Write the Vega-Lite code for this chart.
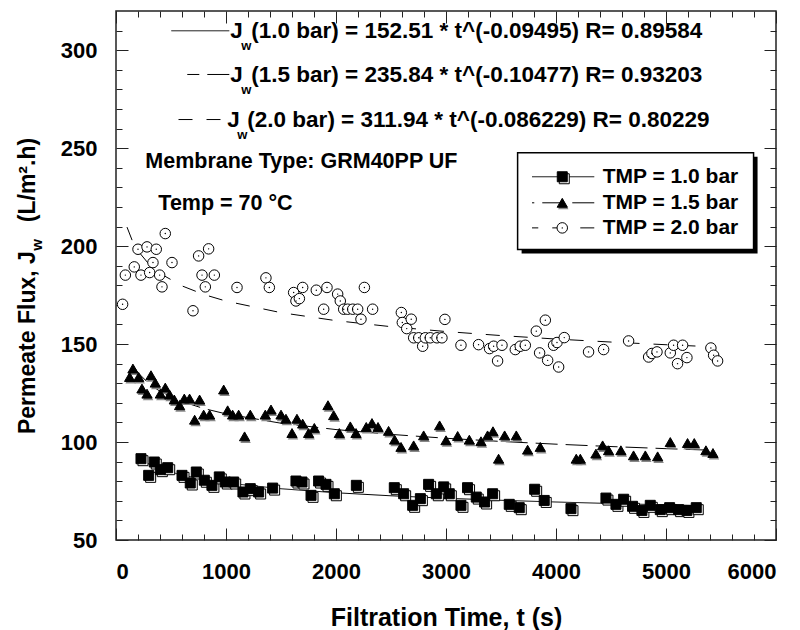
{
  "$schema": "https://vega.github.io/schema/vega-lite/v6.json",
  "width": 660,
  "height": 529,
  "autosize": "none",
  "padding": {"left": 116, "top": 11, "right": 24, "bottom": 90},
  "background": "white",
  "config": {
    "view": {"stroke": "#222", "strokeWidth": 1.5},
    "font": "Liberation Sans",
    "axis": {"domain": false, "grid": false, "labelFont": "Liberation Sans", "labelFontWeight": "bold", "labelFontSize": 22, "labelColor": "#000", "labelOverlap": false, "tickColor": "#222", "tickWidth": 1, "titleFont": "Liberation Sans", "titleFontWeight": "bold", "titleColor": "#000", "format": "d"}
  },
  "resolve": {"axis": {"x": "independent", "y": "independent"}},
  "encoding": {
    "x": {"field": "t", "type": "quantitative", "scale": {"domain": [0, 6000], "nice": false, "zero": false}, "axis": null},
    "y": {"field": "v", "type": "quantitative", "scale": {"domain": [50, 320], "nice": false, "zero": false}, "axis": null}
  },
  "datasets": {
    "points": [
      {"t":227,"v":91.5,"tmp":"1.0"},{"t":297,"v":83.0,"tmp":"1.0"},{"t":348,"v":89.8,"tmp":"1.0"},{"t":403,"v":85.9,"tmp":"1.0"},{"t":470,"v":86.9,"tmp":"1.0"},{"t":600,"v":83.0,"tmp":"1.0"},{"t":675,"v":79.1,"tmp":"1.0"},{"t":730,"v":84.7,"tmp":"1.0"},{"t":803,"v":80.5,"tmp":"1.0"},{"t":872,"v":77.9,"tmp":"1.0"},{"t":939,"v":82.2,"tmp":"1.0"},{"t":994,"v":79.6,"tmp":"1.0"},{"t":1070,"v":79.6,"tmp":"1.0"},{"t":1154,"v":74.5,"tmp":"1.0"},{"t":1221,"v":76.2,"tmp":"1.0"},{"t":1297,"v":74.5,"tmp":"1.0"},{"t":1424,"v":76.5,"tmp":"1.0"},{"t":1636,"v":80.1,"tmp":"1.0"},{"t":1691,"v":79.6,"tmp":"1.0"},{"t":1773,"v":72.8,"tmp":"1.0"},{"t":1842,"v":80.1,"tmp":"1.0"},{"t":1909,"v":78.4,"tmp":"1.0"},{"t":1985,"v":73.6,"tmp":"1.0"},{"t":2185,"v":77.9,"tmp":"1.0"},{"t":2530,"v":76.7,"tmp":"1.0"},{"t":2615,"v":73.6,"tmp":"1.0"},{"t":2697,"v":67.7,"tmp":"1.0"},{"t":2767,"v":71.1,"tmp":"1.0"},{"t":2842,"v":78.4,"tmp":"1.0"},{"t":2912,"v":73.6,"tmp":"1.0"},{"t":2979,"v":77.1,"tmp":"1.0"},{"t":3030,"v":73.6,"tmp":"1.0"},{"t":3136,"v":67.7,"tmp":"1.0"},{"t":3196,"v":76.7,"tmp":"1.0"},{"t":3275,"v":71.9,"tmp":"1.0"},{"t":3351,"v":69.4,"tmp":"1.0"},{"t":3424,"v":73.6,"tmp":"1.0"},{"t":3575,"v":68.2,"tmp":"1.0"},{"t":3666,"v":66.5,"tmp":"1.0"},{"t":3806,"v":75.9,"tmp":"1.0"},{"t":3893,"v":70.2,"tmp":"1.0"},{"t":4136,"v":66.0,"tmp":"1.0"},{"t":4454,"v":71.4,"tmp":"1.0"},{"t":4545,"v":68.2,"tmp":"1.0"},{"t":4615,"v":70.8,"tmp":"1.0"},{"t":4696,"v":67.2,"tmp":"1.0"},{"t":4781,"v":65.1,"tmp":"1.0"},{"t":4857,"v":67.7,"tmp":"1.0"},{"t":4948,"v":65.5,"tmp":"1.0"},{"t":5033,"v":66.5,"tmp":"1.0"},{"t":5115,"v":65.5,"tmp":"1.0"},{"t":5190,"v":65.1,"tmp":"1.0"},{"t":5275,"v":66.5,"tmp":"1.0"},
      {"t":124,"v":133.2,"tmp":"1.5"},{"t":154,"v":137.5,"tmp":"1.5"},{"t":206,"v":133.2,"tmp":"1.5"},{"t":236,"v":127.3,"tmp":"1.5"},{"t":282,"v":124.7,"tmp":"1.5"},{"t":318,"v":134.1,"tmp":"1.5"},{"t":357,"v":130.3,"tmp":"1.5"},{"t":403,"v":124.7,"tmp":"1.5"},{"t":448,"v":127.8,"tmp":"1.5"},{"t":488,"v":124.2,"tmp":"1.5"},{"t":530,"v":121.7,"tmp":"1.5"},{"t":578,"v":118.8,"tmp":"1.5"},{"t":621,"v":122.2,"tmp":"1.5"},{"t":669,"v":122.2,"tmp":"1.5"},{"t":715,"v":111.4,"tmp":"1.5"},{"t":760,"v":121.7,"tmp":"1.5"},{"t":797,"v":114.0,"tmp":"1.5"},{"t":851,"v":114.0,"tmp":"1.5"},{"t":979,"v":126.8,"tmp":"1.5"},{"t":1015,"v":116.2,"tmp":"1.5"},{"t":1060,"v":114.0,"tmp":"1.5"},{"t":1115,"v":114.0,"tmp":"1.5"},{"t":1169,"v":102.9,"tmp":"1.5"},{"t":1221,"v":114.0,"tmp":"1.5"},{"t":1357,"v":114.0,"tmp":"1.5"},{"t":1409,"v":116.6,"tmp":"1.5"},{"t":1500,"v":114.0,"tmp":"1.5"},{"t":1545,"v":111.9,"tmp":"1.5"},{"t":1600,"v":104.6,"tmp":"1.5"},{"t":1645,"v":111.9,"tmp":"1.5"},{"t":1697,"v":109.4,"tmp":"1.5"},{"t":1751,"v":104.6,"tmp":"1.5"},{"t":1803,"v":107.2,"tmp":"1.5"},{"t":1927,"v":118.8,"tmp":"1.5"},{"t":1979,"v":113.7,"tmp":"1.5"},{"t":2030,"v":104.6,"tmp":"1.5"},{"t":2130,"v":108.0,"tmp":"1.5"},{"t":2182,"v":104.6,"tmp":"1.5"},{"t":2275,"v":107.7,"tmp":"1.5"},{"t":2327,"v":109.7,"tmp":"1.5"},{"t":2382,"v":107.7,"tmp":"1.5"},{"t":2478,"v":105.7,"tmp":"1.5"},{"t":2533,"v":101.2,"tmp":"1.5"},{"t":2591,"v":97.5,"tmp":"1.5"},{"t":2706,"v":98.3,"tmp":"1.5"},{"t":2797,"v":103.4,"tmp":"1.5"},{"t":2942,"v":108.5,"tmp":"1.5"},{"t":3000,"v":100.9,"tmp":"1.5"},{"t":3106,"v":103.1,"tmp":"1.5"},{"t":3212,"v":101.2,"tmp":"1.5"},{"t":3318,"v":100.4,"tmp":"1.5"},{"t":3378,"v":103.4,"tmp":"1.5"},{"t":3427,"v":105.5,"tmp":"1.5"},{"t":3478,"v":91.5,"tmp":"1.5"},{"t":3533,"v":103.4,"tmp":"1.5"},{"t":3639,"v":103.4,"tmp":"1.5"},{"t":3742,"v":96.1,"tmp":"1.5"},{"t":3857,"v":97.5,"tmp":"1.5"},{"t":4184,"v":91.5,"tmp":"1.5"},{"t":4221,"v":91.5,"tmp":"1.5"},{"t":4363,"v":94.1,"tmp":"1.5"},{"t":4424,"v":98.3,"tmp":"1.5"},{"t":4478,"v":95.8,"tmp":"1.5"},{"t":4590,"v":95.8,"tmp":"1.5"},{"t":4705,"v":93.2,"tmp":"1.5"},{"t":4812,"v":93.2,"tmp":"1.5"},{"t":4924,"v":92.7,"tmp":"1.5"},{"t":5039,"v":100.0,"tmp":"1.5"},{"t":5196,"v":99.5,"tmp":"1.5"},{"t":5257,"v":99.5,"tmp":"1.5"},{"t":5363,"v":95.8,"tmp":"1.5"},{"t":5427,"v":94.4,"tmp":"1.5"},
      {"t":60,"v":170.3,"tmp":"2.0"},{"t":85,"v":185.2,"tmp":"2.0"},{"t":166,"v":189.4,"tmp":"2.0"},{"t":200,"v":198.4,"tmp":"2.0"},{"t":227,"v":185.2,"tmp":"2.0"},{"t":282,"v":199.6,"tmp":"2.0"},{"t":306,"v":186.5,"tmp":"2.0"},{"t":336,"v":191.6,"tmp":"2.0"},{"t":366,"v":198.4,"tmp":"2.0"},{"t":397,"v":185.2,"tmp":"2.0"},{"t":418,"v":179.2,"tmp":"2.0"},{"t":448,"v":206.4,"tmp":"2.0"},{"t":509,"v":191.6,"tmp":"2.0"},{"t":700,"v":167.0,"tmp":"2.0"},{"t":751,"v":195.0,"tmp":"2.0"},{"t":782,"v":185.2,"tmp":"2.0"},{"t":812,"v":179.2,"tmp":"2.0"},{"t":842,"v":198.6,"tmp":"2.0"},{"t":894,"v":185.2,"tmp":"2.0"},{"t":1100,"v":178.9,"tmp":"2.0"},{"t":1363,"v":183.8,"tmp":"2.0"},{"t":1394,"v":178.9,"tmp":"2.0"},{"t":1615,"v":176.3,"tmp":"2.0"},{"t":1636,"v":172.0,"tmp":"2.0"},{"t":1667,"v":173.2,"tmp":"2.0"},{"t":1697,"v":178.9,"tmp":"2.0"},{"t":1821,"v":177.5,"tmp":"2.0"},{"t":1888,"v":167.8,"tmp":"2.0"},{"t":1918,"v":178.9,"tmp":"2.0"},{"t":2015,"v":175.5,"tmp":"2.0"},{"t":2039,"v":172.0,"tmp":"2.0"},{"t":2070,"v":167.8,"tmp":"2.0"},{"t":2106,"v":167.8,"tmp":"2.0"},{"t":2152,"v":167.8,"tmp":"2.0"},{"t":2197,"v":167.8,"tmp":"2.0"},{"t":2227,"v":162.7,"tmp":"2.0"},{"t":2258,"v":178.9,"tmp":"2.0"},{"t":2333,"v":167.8,"tmp":"2.0"},{"t":2594,"v":166.1,"tmp":"2.0"},{"t":2603,"v":161.0,"tmp":"2.0"},{"t":2643,"v":157.9,"tmp":"2.0"},{"t":2684,"v":162.7,"tmp":"2.0"},{"t":2706,"v":153.2,"tmp":"2.0"},{"t":2752,"v":153.2,"tmp":"2.0"},{"t":2788,"v":148.9,"tmp":"2.0"},{"t":2812,"v":153.2,"tmp":"2.0"},{"t":2857,"v":153.2,"tmp":"2.0"},{"t":2918,"v":153.2,"tmp":"2.0"},{"t":2963,"v":153.2,"tmp":"2.0"},{"t":2990,"v":162.6,"tmp":"2.0"},{"t":3136,"v":149.4,"tmp":"2.0"},{"t":3296,"v":149.7,"tmp":"2.0"},{"t":3396,"v":147.7,"tmp":"2.0"},{"t":3433,"v":148.9,"tmp":"2.0"},{"t":3469,"v":141.4,"tmp":"2.0"},{"t":3509,"v":149.4,"tmp":"2.0"},{"t":3630,"v":147.2,"tmp":"2.0"},{"t":3675,"v":148.9,"tmp":"2.0"},{"t":3721,"v":149.4,"tmp":"2.0"},{"t":3821,"v":156.6,"tmp":"2.0"},{"t":3851,"v":145.5,"tmp":"2.0"},{"t":3903,"v":162.2,"tmp":"2.0"},{"t":3924,"v":141.7,"tmp":"2.0"},{"t":3978,"v":149.4,"tmp":"2.0"},{"t":4009,"v":150.8,"tmp":"2.0"},{"t":4024,"v":138.3,"tmp":"2.0"},{"t":4075,"v":153.3,"tmp":"2.0"},{"t":4296,"v":146.0,"tmp":"2.0"},{"t":4433,"v":147.2,"tmp":"2.0"},{"t":4660,"v":151.6,"tmp":"2.0"},{"t":4842,"v":143.4,"tmp":"2.0"},{"t":4872,"v":145.2,"tmp":"2.0"},{"t":4918,"v":146.0,"tmp":"2.0"},{"t":5039,"v":145.5,"tmp":"2.0"},{"t":5069,"v":149.4,"tmp":"2.0"},{"t":5105,"v":140.0,"tmp":"2.0"},{"t":5151,"v":149.4,"tmp":"2.0"},{"t":5190,"v":143.1,"tmp":"2.0"},{"t":5408,"v":148.0,"tmp":"2.0"},{"t":5433,"v":144.3,"tmp":"2.0"},{"t":5469,"v":141.4,"tmp":"2.0"}
    ],
    "fits": [
      {"t":200,"v":92.22,"tmp":"1.0"},{"t":300,"v":88.74,"tmp":"1.0"},{"t":400,"v":86.34,"tmp":"1.0"},{"t":600,"v":83.08,"tmp":"1.0"},{"t":800,"v":80.85,"tmp":"1.0"},{"t":1000,"v":79.15,"tmp":"1.0"},{"t":1500,"v":76.16,"tmp":"1.0"},{"t":2000,"v":74.11,"tmp":"1.0"},{"t":2500,"v":72.56,"tmp":"1.0"},{"t":3000,"v":71.31,"tmp":"1.0"},{"t":3500,"v":70.27,"tmp":"1.0"},{"t":4000,"v":69.39,"tmp":"1.0"},{"t":4500,"v":68.62,"tmp":"1.0"},{"t":5000,"v":67.93,"tmp":"1.0"},{"t":5300,"v":67.56,"tmp":"1.0"},
      {"t":150,"v":139.52,"tmp":"1.5"},{"t":200,"v":135.38,"tmp":"1.5"},{"t":300,"v":129.74,"tmp":"1.5"},{"t":400,"v":125.89,"tmp":"1.5"},{"t":600,"v":120.66,"tmp":"1.5"},{"t":800,"v":117.08,"tmp":"1.5"},{"t":1000,"v":114.37,"tmp":"1.5"},{"t":1500,"v":109.61,"tmp":"1.5"},{"t":2000,"v":106.36,"tmp":"1.5"},{"t":2500,"v":103.90,"tmp":"1.5"},{"t":3000,"v":101.93,"tmp":"1.5"},{"t":3500,"v":100.30,"tmp":"1.5"},{"t":4000,"v":98.91,"tmp":"1.5"},{"t":4500,"v":97.70,"tmp":"1.5"},{"t":5000,"v":96.62,"tmp":"1.5"},{"t":5450,"v":95.75,"tmp":"1.5"},
      {"t":100,"v":209.70,"tmp":"2.0"},{"t":150,"v":202.50,"tmp":"2.0"},{"t":200,"v":197.54,"tmp":"2.0"},{"t":300,"v":190.75,"tmp":"2.0"},{"t":400,"v":186.08,"tmp":"2.0"},{"t":600,"v":179.69,"tmp":"2.0"},{"t":800,"v":175.28,"tmp":"2.0"},{"t":1000,"v":171.94,"tmp":"2.0"},{"t":1500,"v":166.03,"tmp":"2.0"},{"t":2000,"v":161.96,"tmp":"2.0"},{"t":2500,"v":158.88,"tmp":"2.0"},{"t":3000,"v":156.40,"tmp":"2.0"},{"t":3500,"v":154.34,"tmp":"2.0"},{"t":4000,"v":152.57,"tmp":"2.0"},{"t":4500,"v":151.03,"tmp":"2.0"},{"t":5000,"v":149.67,"tmp":"2.0"},{"t":5450,"v":148.55,"tmp":"2.0"}
    ],
    "samples": [
      {"t":1030,"t2":503,"v":309.9,"tmp":"1.0"},
      {"t":1030,"t2":648,"v":287.6,"tmp":"1.5"},
      {"t":950,"t2":557,"v":264.6,"tmp":"2.0"},
      {"t":4348,"t2":3782,"v":235.4,"tmp":"1.0"},
      {"t":4348,"t2":3782,"v":222.1,"tmp":"1.5"},
      {"t":4348,"t2":3782,"v":209.3,"tmp":"2.0"}
    ],
    "legsym": [
      {"t":4057,"v":235.4,"tmp":"1.0"},
      {"t":4057,"v":222.1,"tmp":"1.5"},
      {"t":4057,"v":209.3,"tmp":"2.0"}
    ],
    "legtext": [
      {"t":4424,"v":235.4,"text":"TMP = 1.0 bar"},
      {"t":4424,"v":222.1,"text":"TMP = 1.5 bar"},
      {"t":4424,"v":209.3,"text":"TMP = 2.0 bar"}
    ],
    "legbox": [{"t":3651,"t2":5796,"v":247.6,"v2":198.3}],
    "eqs": [
      {"t":1039,"v":306.2,"text":"J"},
      {"t":1230,"v":306.2,"text":"(1.0 bar) = 152.51 * t^(-0.09495) R= 0.89584"},
      {"t":1039,"v":283.7,"text":"J"},
      {"t":1230,"v":283.7,"text":"(1.5 bar) = 235.84 * t^(-0.10477) R= 0.93203"},
      {"t":1012,"v":260.8,"text":"J"},
      {"t":1194,"v":260.8,"text":"(2.0 bar) = 311.94 * t^(-0.086229) R= 0.80229"}
    ],
    "notes": [
      {"t":266,"v":239.8,"text":"Membrane Type: GRM40PP UF"},
      {"t":385,"v":218.4,"text":"Temp = 70 °C"}
    ],
    "subs": [
      {"t":1139,"v":300.1,"text":"w"},
      {"t":1139,"v":277.6,"text":"w"},
      {"t":1103,"v":254.6,"text":"w"}
    ],
    "ytitleA": [{"t":-734,"v":197.4,"text":"Permeate Flux, J"}],
    "ytitleB": [{"t":-734,"v":212.2,"text":"(L/m².h)"}],
    "ytitleSub": [{"t":-670,"v":197.6,"text":"w"}],
    "ax": [{"t":0,"v":50}]
  },
  "layer": [
    {
      "data": {"name": "fits"},
      "mark": {"type": "line", "color": "#000", "strokeWidth": 1},
      "encoding": {
        "detail": {"field": "tmp"},
        "strokeDash": {"field": "tmp", "type": "nominal", "scale": {"domain": ["1.0","1.5","2.0"], "range": [[1,0],[22,8],[14,14]]}, "legend": null}
      }
    },
    {
      "data": {"name": "points"},
      "layer": [
        {"transform": [{"filter": "datum.tmp === '1.0'"}], "mark": {"type": "point", "shape": "square", "size": 100, "filled": true, "fill": "#fff", "stroke": "#000", "strokeWidth": 1, "opacity": 1, "xOffset": 2, "yOffset": 2}},
        {"transform": [{"filter": "datum.tmp === '1.5'"}], "mark": {"type": "point", "shape": "triangle-up", "size": 110, "filled": true, "fill": "#888", "strokeWidth": 0, "opacity": 1, "xOffset": 1, "yOffset": 2}},
        {"mark": {"type": "point", "filled": true, "stroke": "#000", "strokeWidth": 1, "opacity": 1},
         "encoding": {
           "shape": {"field": "tmp", "type": "nominal", "scale": {"domain": ["1.0","1.5","2.0"], "range": ["square","triangle-up","circle"]}, "legend": null},
           "fill": {"field": "tmp", "type": "nominal", "scale": {"domain": ["1.0","1.5","2.0"], "range": ["#000","#000","#fff"]}, "legend": null},
           "size": {"field": "tmp", "type": "ordinal", "scale": {"domain": ["1.0","1.5","2.0"], "range": [100,110,64]}, "legend": null}
         }},
        {"transform": [{"filter": "datum.tmp === '2.0'"}], "mark": {"type": "point", "shape": "circle", "size": 2, "filled": true, "fill": "#000", "strokeWidth": 0, "opacity": 1}}
      ]
    },
    {
      "data": {"name": "legbox"},
      "mark": {"type": "rect", "fill": "#000", "xOffset": 4, "x2Offset": 4, "yOffset": 4, "y2Offset": 4},
      "encoding": {"x2": {"field": "t2"}, "y2": {"field": "v2"}}
    },
    {
      "data": {"name": "legbox"},
      "mark": {"type": "rect", "fill": "#fff", "stroke": "#000", "strokeWidth": 1.5},
      "encoding": {"x2": {"field": "t2"}, "y2": {"field": "v2"}}
    },
    {
      "data": {"name": "samples"},
      "mark": {"type": "rule", "color": "#000", "strokeWidth": 1},
      "encoding": {
        "x2": {"field": "t2"},
        "strokeDash": {"field": "tmp", "type": "nominal", "scale": {"domain": ["1.0","1.5","2.0"], "range": [[1,0],[22,8],[14,14]]}, "legend": null}
      }
    },
    {
      "data": {"name": "legsym"},
      "layer": [
        {"transform": [{"filter": "datum.tmp === '1.0'"}], "mark": {"type": "point", "shape": "square", "size": 100, "filled": true, "fill": "#fff", "stroke": "#000", "strokeWidth": 1, "opacity": 1, "xOffset": 2, "yOffset": 2}},
        {"transform": [{"filter": "datum.tmp === '1.5'"}], "mark": {"type": "point", "shape": "triangle-up", "size": 110, "filled": true, "fill": "#888", "strokeWidth": 0, "opacity": 1, "xOffset": 1, "yOffset": 2}},
        {"mark": {"type": "point", "filled": true, "stroke": "#000", "strokeWidth": 1, "opacity": 1},
         "encoding": {
           "shape": {"field": "tmp", "type": "nominal", "scale": {"domain": ["1.0","1.5","2.0"], "range": ["square","triangle-up","circle"]}, "legend": null},
           "fill": {"field": "tmp", "type": "nominal", "scale": {"domain": ["1.0","1.5","2.0"], "range": ["#000","#000","#fff"]}, "legend": null},
           "size": {"field": "tmp", "type": "ordinal", "scale": {"domain": ["1.0","1.5","2.0"], "range": [100,110,64]}, "legend": null}
         }},
        {"transform": [{"filter": "datum.tmp === '2.0'"}], "mark": {"type": "point", "shape": "circle", "size": 2, "filled": true, "fill": "#000", "strokeWidth": 0, "opacity": 1}}
      ]
    },
    {
      "data": {"name": "legtext"},
      "mark": {"type": "text", "align": "left", "baseline": "middle", "font": "Liberation Sans", "fontWeight": "bold", "fontSize": 21, "color": "#000"},
      "encoding": {"text": {"field": "text"}}
    },
    {
      "data": {"name": "eqs"},
      "mark": {"type": "text", "align": "left", "baseline": "alphabetic", "font": "Liberation Sans", "fontWeight": "bold", "fontSize": 22.5, "color": "#000"},
      "encoding": {"text": {"field": "text"}}
    },
    {
      "data": {"name": "notes"},
      "mark": {"type": "text", "align": "left", "baseline": "alphabetic", "font": "Liberation Sans", "fontWeight": "bold", "fontSize": 21.5, "color": "#000"},
      "encoding": {"text": {"field": "text"}}
    },
    {
      "data": {"name": "subs"},
      "mark": {"type": "text", "align": "left", "baseline": "alphabetic", "font": "Liberation Sans", "fontWeight": "bold", "fontSize": 13, "color": "#000"},
      "encoding": {"text": {"field": "text"}}
    },
    {
      "data": {"name": "ytitleA"},
      "mark": {"type": "text", "align": "right", "baseline": "alphabetic", "angle": 270, "font": "Liberation Sans", "fontWeight": "bold", "fontSize": 23, "color": "#000"},
      "encoding": {"text": {"field": "text"}}
    },
    {
      "data": {"name": "ytitleSub"},
      "mark": {"type": "text", "align": "left", "baseline": "alphabetic", "angle": 270, "font": "Liberation Sans", "fontWeight": "bold", "fontSize": 15, "color": "#000"},
      "encoding": {"text": {"field": "text"}}
    },
    {
      "data": {"name": "ytitleB"},
      "mark": {"type": "text", "align": "left", "baseline": "alphabetic", "angle": 270, "font": "Liberation Sans", "fontWeight": "bold", "fontSize": 23, "color": "#000"},
      "encoding": {"text": {"field": "text"}}
    },
    {
      "data": {"name": "ax"},
      "mark": {"type": "point", "opacity": 0},
      "encoding": {
        "x": {"field": "t", "type": "quantitative", "axis": {"orient": "bottom", "values": [0,1000,2000,3000,4000,5000,6000], "format": "d", "ticks": false, "labelPadding": 21, "title": "Filtration Time, t (s)", "titleFontSize": 25, "titleY": 85, "titleBaseline": "alphabetic"}},
        "y": {"field": "v", "type": "quantitative", "axis": {"orient": "left", "values": [50,100,150,200,250,300], "format": "d", "ticks": false, "labelPadding": 19, "title": null}}
      }
    },
    {
      "data": {"name": "ax"},
      "mark": {"type": "point", "opacity": 0},
      "encoding": {
        "x": {"field": "t", "type": "quantitative", "axis": {"orient": "bottom", "values": [0,1000,2000,3000,4000,5000,6000], "ticks": true, "tickSize": -12, "labels": false, "title": null}},
        "y": {"field": "v", "type": "quantitative", "axis": {"orient": "left", "values": [50,100,150,200,250,300], "ticks": true, "tickSize": -12, "labels": false, "title": null}}
      }
    },
    {
      "data": {"name": "ax"},
      "mark": {"type": "point", "opacity": 0},
      "encoding": {
        "x": {"field": "t", "type": "quantitative", "axis": {"orient": "bottom", "values": [200,400,600,800,1200,1400,1600,1800,2200,2400,2600,2800,3200,3400,3600,3800,4200,4400,4600,4800,5200,5400,5600,5800], "ticks": true, "tickSize": -6, "labels": false, "title": null}},
        "y": {"field": "v", "type": "quantitative", "axis": {"orient": "left", "values": [60,70,80,90,110,120,130,140,160,170,180,190,210,220,230,240,260,270,280,290,310], "ticks": true, "tickSize": -6, "labels": false, "title": null}}
      }
    },
    {
      "data": {"name": "ax"},
      "mark": {"type": "point", "opacity": 0},
      "encoding": {
        "x": {"field": "t", "type": "quantitative", "axis": {"orient": "top", "values": [0,1000,2000,3000,4000,5000,6000], "ticks": true, "tickSize": -12, "labels": false, "title": null}},
        "y": {"field": "v", "type": "quantitative", "axis": {"orient": "right", "values": [50,100,150,200,250,300], "ticks": true, "tickSize": -12, "labels": false, "title": null}}
      }
    },
    {
      "data": {"name": "ax"},
      "mark": {"type": "point", "opacity": 0},
      "encoding": {
        "x": {"field": "t", "type": "quantitative", "axis": {"orient": "top", "values": [200,400,600,800,1200,1400,1600,1800,2200,2400,2600,2800,3200,3400,3600,3800,4200,4400,4600,4800,5200,5400,5600,5800], "ticks": true, "tickSize": -6, "labels": false, "title": null}},
        "y": {"field": "v", "type": "quantitative", "axis": {"orient": "right", "values": [60,70,80,90,110,120,130,140,160,170,180,190,210,220,230,240,260,270,280,290,310], "ticks": true, "tickSize": -6, "labels": false, "title": null}}
      }
    }
  ]
}
